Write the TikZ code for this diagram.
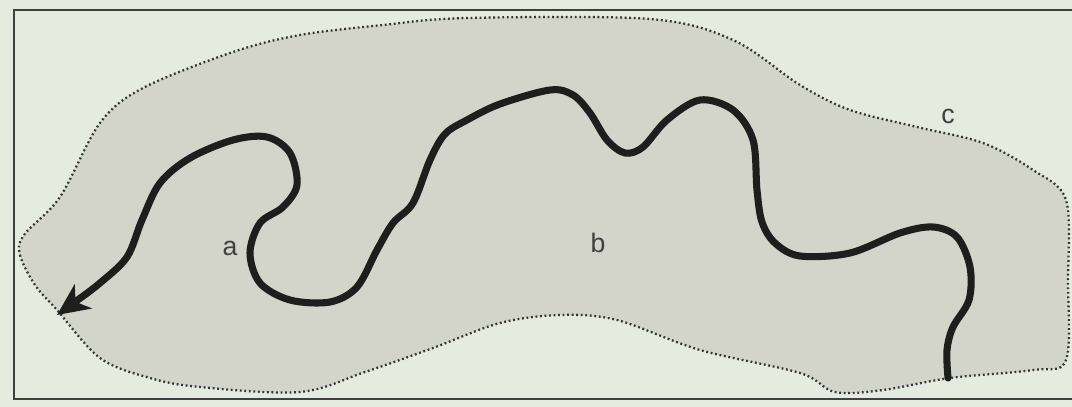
\documentclass[tikz,border=0pt]{standalone}
\usepackage{fontspec}
\setmainfont{Liberation Sans}
\usetikzlibrary{arrows.meta}
\definecolor{paper}{HTML}{E6EBE0}
\definecolor{land}{HTML}{D3D4CA}
\definecolor{ink}{HTML}{1E1E1C}
\tikzset{
  frameline/.style={draw=ink!85, line width=1.6pt},
  region/.style={fill=land, draw=ink!90, line width=1.7pt, dash pattern=on 1.4pt off 2.0pt},
  river/.style={draw=ink, line width=5.3pt, line cap=round, line join=round},
  lbl/.style={text=ink!85, font=\fontsize{20}{22}\selectfont, inner sep=0pt}
}
\begin{document}
\begin{tikzpicture}[x=0.75pt,y=-0.75pt]
\useasboundingbox (0,0) rectangle (1072,407);
\fill[paper] (0,0) rectangle (1072,407);
% region outline
\draw[region] plot[smooth cycle, tension=0.55] coordinates {
 (24,235) (20,255) (35,285) (57,310) (100,358) (150,378) (200,387) (300,392)
 (365,372) (433,348) (500,323) (560,315) (617,320) (700,350) (800,373)
 (835,392) (883,390) (950,378) (1033,370) (1066,360) (1068,280) (1066,200)
 (1033,170) (983,143) (917,127) (850,110) (800,85) (733,40) (650,19)
 (467,18) (383,25) (300,35) (233,52) (143,88) (100,123) (60,197)};
% frame
\draw[frameline] (1080,10) -- (14,10) -- (14,399) -- (1080,399);
% river
\coordinate (mouth) at (57,315);
\coordinate (source) at (948,378);
\draw[river, {Stealth[length=24pt,width=22pt,inset=7pt]}-]
 plot[smooth, tension=0.55] coordinates {
 (mouth) (75,302) (100,283) (127,257) (142,220) (160,183) (190,158) (233,140)
 (267,137) (290,153) (297,185) (283,207) (260,223) (250,253) (260,283)
 (290,300) (330,302) (357,287) (377,250) (393,223) (413,203) (430,160)
 (445,134) (467,120) (500,104) (550,90) (573,95) (590,113) (607,140)
 (625,153) (643,147) (667,120) (700,100) (733,110) (753,140) (757,190)
 (762,222) (775,243) (800,256) (850,253) (900,233) (933,227) (957,237)
 (970,267) (969,300) (953,327) (947,350) (source)};
% labels
\node[lbl] (la) at (230,248) {a};
\node[lbl] (lb) at (598,243) {b};
\node[lbl] (lc) at (948,116) {c};
\end{tikzpicture}
\end{document}
